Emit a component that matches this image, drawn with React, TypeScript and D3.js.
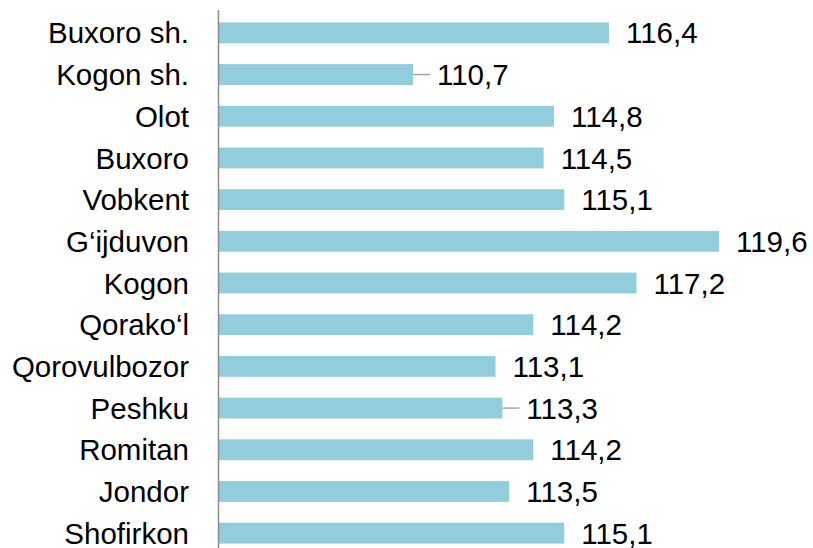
import * as React from 'react';
import * as d3 from 'd3';

const districts = ['Buxoro sh.', 'Kogon sh.', 'Olot', 'Buxoro', 'Vobkent', 'G‘ijduvon', 'Kogon', 'Qorako‘l', 'Qorovulbozor', 'Peshku', 'Romitan', 'Jondor', 'Shofirkon'];
const values = [116.4, 110.7, 114.8, 114.5, 115.1, 119.6, 117.2, 114.2, 113.1, 113.3, 114.2, 113.5, 115.1];
// labels pushed out with a short leader line
const leaderRows = ['Kogon sh.', 'Peshku'];

const width = 813;
const height = 548;

export default function App() {
    const ref = React.useRef<SVGSVGElement>(null);

    React.useEffect(() => {
        const svg = d3.select(ref.current);
        svg.selectAll('*').remove();

        const x = d3.scaleLinear().domain([105.03, 119.6]).range([218, 719]);
        const y = d3.scaleBand().domain(districts).range([12, 554]).paddingInner(0.5).paddingOuter(0.25);

        const data = districts.map((d, i) => ({ name: d, value: values[i] }));

        svg.append('g')
            .selectAll('rect')
            .data(data)
            .enter()
            .append('rect')
            .attr('x', x(105.03))
            .attr('y', d => (y(d.name) as number))
            .attr('width', d => x(d.value) - x(105.03))
            .attr('height', y.bandwidth())
            .attr('fill', '#92CDDC');

        svg.append('line')
            .attr('x1', 218.5).attr('x2', 218.5)
            .attr('y1', 10).attr('y2', height)
            .attr('stroke', '#8c8c8c')
            .attr('stroke-width', 1.5);

        svg.append('g')
            .selectAll('line')
            .data(data.filter(d => leaderRows.includes(d.name)))
            .enter()
            .append('line')
            .attr('x1', d => x(d.value))
            .attr('x2', d => x(d.value) + 17)
            .attr('y1', d => (y(d.name) as number) + y.bandwidth() / 2)
            .attr('y2', d => (y(d.name) as number) + y.bandwidth() / 2)
            .attr('stroke', '#a6a6a6')
            .attr('stroke-width', 1.5);

        svg.append('g')
            .selectAll('text')
            .data(data)
            .enter()
            .append('text')
            .attr('x', d => x(d.value) + (leaderRows.includes(d.name) ? 24 : 17))
            .attr('y', d => (y(d.name) as number) + y.bandwidth() / 2)
            .attr('dy', '0.36em')
            .style('font-family', '"Liberation Sans", Arial, sans-serif')
            .style('font-size', '29.5px')
            .attr('fill', '#000')
            .text(d => d.value.toFixed(1).replace('.', ','));

        svg.append('g')
            .selectAll('text')
            .data(data)
            .enter()
            .append('text')
            .attr('x', 189)
            .attr('y', d => (y(d.name) as number) + y.bandwidth() / 2)
            .attr('dy', '0.36em')
            .attr('text-anchor', 'end')
            .style('font-family', '"Liberation Sans", Arial, sans-serif')
            .style('font-size', '29.5px')
            .attr('fill', '#000')
            .text(d => d.name);
    }, []);

    return (
        <svg ref={ref} width={width} height={height}
            style={{ position: 'absolute', left: 0, top: 0, background: '#fff' }} />
    );
}
